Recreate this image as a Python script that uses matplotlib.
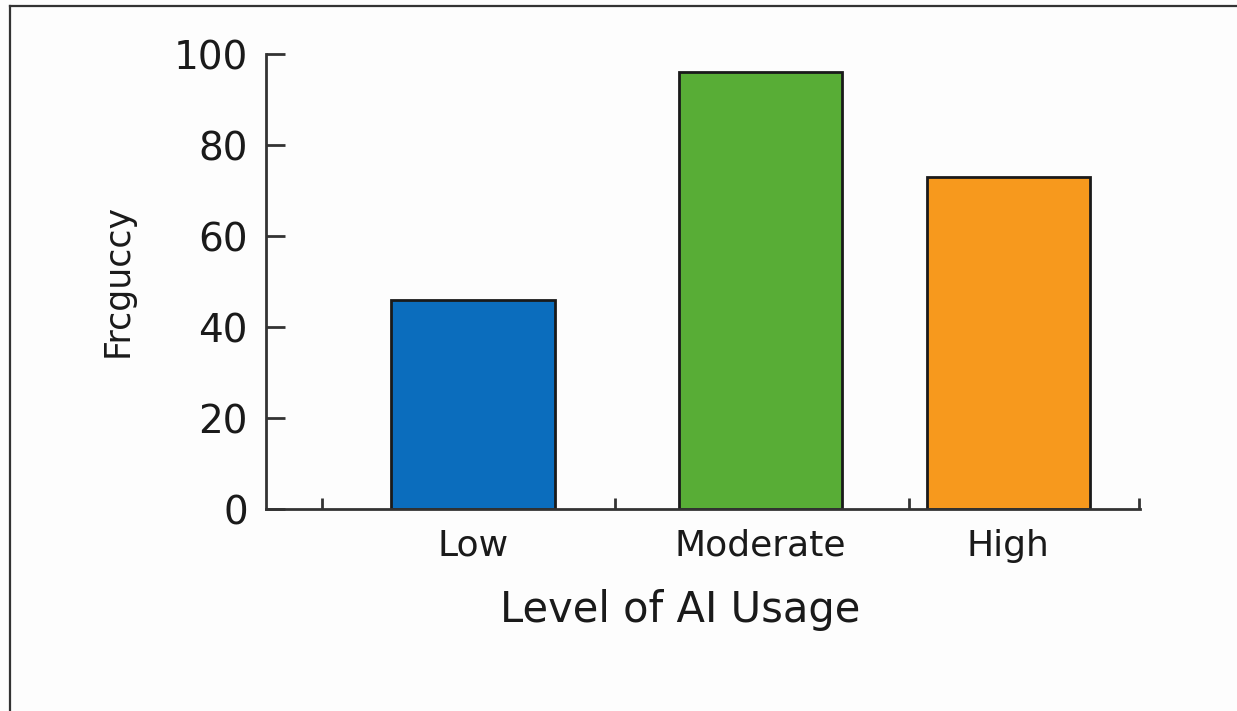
import matplotlib.pyplot as plt
from matplotlib.lines import Line2D

# usage levels and counts
levels = ['Low', 'Moderate', 'High']
counts = [46, 96, 73]
bar_colors = ['#0b6dbd', '#58ad36', '#f7991d']

# where things sit along the x axis
bar_pos = [0, 1.073, 2.0]
sep_ticks = [-0.564, 0.531, 1.63, 2.49]

fig = plt.figure(figsize=(12.37, 7.11), dpi=100, facecolor='#fdfdfd')
ax = fig.add_axes([0.215, 0.284, 0.7066, 0.640])
ax.set_facecolor('#fdfdfd')

ax.bar(bar_pos, counts, width=0.61, color=bar_colors, edgecolor='#1a1a1a', linewidth=2, zorder=2)

ax.set_xlim(-0.774, 2.493)
ax.set_ylim(0, 100)

for s in ['top', 'right']:
    ax.spines[s].set_visible(False)
for s in ['left', 'bottom']:
    ax.spines[s].set_linewidth(2)
    ax.spines[s].set_color('#333333')

# y ticks point inward
ax.set_yticks([0, 20, 40, 60, 80, 100])
ax.tick_params(axis='y', direction='in', length=14, width=2, color='#333333',
               pad=13, labelsize=28, labelcolor='#1a1a1a')

# category names under the bars, small separator ticks on the axis
ax.set_xticks(bar_pos)
ax.set_xticklabels(levels, fontsize=26, color='#1a1a1a')
ax.tick_params(axis='x', which='major', length=0, pad=14)
ax.set_xticks(sep_ticks, minor=True)
ax.tick_params(axis='x', which='minor', direction='in', length=8, width=2, color='#333333')

ax.set_xlabel('Level of AI Usage', fontsize=30, color='#1a1a1a')
ax.xaxis.set_label_coords(0.474, -0.175)
ax.set_ylabel('Frcguccy', fontsize=25, color='#1a1a1a')
ax.yaxis.set_label_coords(-0.15, 0.503)

# frame lines along the top and left edge
fig.add_artist(Line2D([0.0078, 0.0078], [0, 0.9916], transform=fig.transFigure, color='#333333', lw=1.6))
fig.add_artist(Line2D([0.0078, 1], [0.9916, 0.9916], transform=fig.transFigure, color='#333333', lw=1.6))

fig.savefig('out.png', dpi=100, facecolor=fig.get_facecolor())
